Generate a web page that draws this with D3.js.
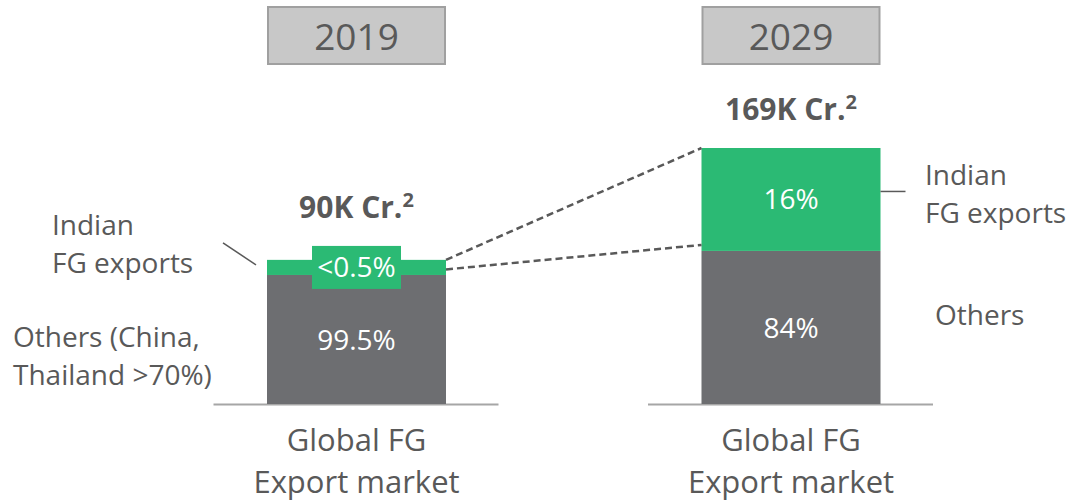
<!DOCTYPE html>
<html>
<head>
<meta charset="utf-8">
<script src="https://cdn.jsdelivr.net/npm/d3@7"></script>
<style>
  body { margin: 0; background: #fff; }
  text { font-family: "Open Sans", sans-serif; fill: #595959; }
</style>
</head>
<body>
<script>
// years and market sizes
let years = ['2019', '2029'];
let marketLabels = ['90K Cr.', '169K Cr.'];
let indianLabels = ['<0.5%', '16%'];
let othersLabels = ['99.5%', '84%'];
// segment heights as drawn on the slide (stylised, % of the tallest bar)
let othersDrawn = [50.4, 59.8];
let indianDrawn = [5.9, 40.2];

let w = 1066;
let h = 503;
let green = '#2bba74';
let grey = '#6d6e71';

let svg = d3.select('body').append('svg')
  .attr('width', w)
  .attr('height', h);

// scales
let x = d3.scalePoint()
  .domain(years)
  .range([356.5, 791]);
let y = d3.scaleLinear()
  .domain([0, 100])
  .range([404, 148]);
let barW = 179;

let data = years.map((yr, i) => ({
  yr,
  market: marketLabels[i],
  others: othersDrawn[i],
  indian: indianDrawn[i],
  othersLabel: othersLabels[i],
  indianLabel: indianLabels[i]
}));

// year boxes
let yearG = svg.selectAll('.year')
  .data(data)
  .enter()
    .append('g')
    .classed('year', true);
yearG.append('rect')
  .attr('x', d => x(d.yr) - 88.5)
  .attr('y', 7)
  .attr('width', 177)
  .attr('height', 57)
  .attr('fill', '#c8c8c8')
  .attr('stroke', '#a0a0a0')
  .attr('stroke-width', 2);
yearG.append('text')
  .attr('x', d => x(d.yr))
  .attr('y', 50)
  .attr('text-anchor', 'middle')
  .style('font-size', '37px')
  .text(d => d.yr);

// base lines
svg.selectAll('.base')
  .data(data)
  .enter()
    .append('line')
    .attr('x1', d => x(d.yr) - 143)
    .attr('x2', d => x(d.yr) + 142)
    .attr('y1', y(0) + 0.5)
    .attr('y2', y(0) + 0.5)
    .attr('stroke', '#a6a6a6')
    .attr('stroke-width', 2);

// others segment
svg.selectAll('.bar-others')
  .data(data)
  .enter()
    .append('rect')
    .attr('x', d => x(d.yr) - barW / 2)
    .attr('y', d => y(d.others))
    .attr('width', barW)
    .attr('height', d => y(0) - y(d.others))
    .attr('fill', grey);

// indian segment
svg.selectAll('.bar-indian')
  .data(data)
  .enter()
    .append('rect')
    .attr('x', d => x(d.yr) - barW / 2)
    .attr('y', d => y(d.others + d.indian))
    .attr('width', barW)
    .attr('height', d => y(d.others) - y(d.others + d.indian))
    .attr('fill', green);

// small segment gets a bigger label box
const isSmall = d => (y(d.others) - y(d.others + d.indian)) < 40;
const indianMid = d => (y(d.others) + y(d.others + d.indian)) / 2;

svg.selectAll('.lbl-box')
  .data(data.filter(isSmall))
  .enter()
    .append('rect')
    .attr('x', d => x(d.yr) - 44.5)
    .attr('y', d => indianMid(d) - 21.5)
    .attr('width', 89)
    .attr('height', 43)
    .attr('fill', green);

svg.selectAll('.lbl-indian')
  .data(data)
  .enter()
    .append('text')
    .attr('x', d => x(d.yr))
    .attr('y', d => indianMid(d) + 10)
    .attr('text-anchor', 'middle')
    .style('font-size', '28px')
    .style('fill', '#fff')
    .text(d => d.indianLabel);

svg.selectAll('.lbl-others')
  .data(data)
  .enter()
    .append('text')
    .attr('x', d => x(d.yr))
    .attr('y', d => (y(0) + y(d.others)) / 2 + 10.5)
    .attr('text-anchor', 'middle')
    .style('font-size', '28px')
    .style('fill', '#fff')
    .text(d => d.othersLabel);

// market size labels above the bars
let mk = svg.selectAll('.market')
  .data(data)
  .enter()
    .append('text')
    .attr('x', d => x(d.yr))
    .attr('y', d => {
      let top = y(d.others + d.indian);
      if (isSmall(d)) top = Math.min(top, indianMid(d) - 21.5);
      return top - 28;
    })
    .attr('text-anchor', 'middle')
    .style('font-size', '30px')
    .style('font-weight', 'bold');
mk.append('tspan').text(d => d.market);
mk.append('tspan')
  .attr('dy', -11)
  .style('font-size', '20px')
  .text('2');

// dashed connectors between the green segments
let a = data[0], b = data[1];
let lx1 = x(a.yr) + barW / 2, lx2 = x(b.yr) - barW / 2;
svg.append('line')
  .attr('x1', lx1).attr('y1', y(a.others + a.indian))
  .attr('x2', lx2).attr('y2', y(b.others + b.indian))
  .attr('stroke', '#595959').attr('stroke-width', 2.5)
  .attr('stroke-dasharray', '7 4');
svg.append('line')
  .attr('x1', lx1).attr('y1', indianMid(a) + 2)
  .attr('x2', lx2).attr('y2', y(b.others) - 6)
  .attr('stroke', '#595959').attr('stroke-width', 2.5)
  .attr('stroke-dasharray', '7 4');

// side labels
const addLines = (lines, xx, yy, anchor) => {
  lines.forEach((t, i) => {
    svg.append('text')
      .attr('x', xx)
      .attr('y', yy + i * 38)
      .attr('text-anchor', anchor || 'start')
      .style('font-size', '28px')
      .text(t);
  });
};
addLines(['Indian', 'FG exports'], 52, 235);
addLines(['Others (China,', 'Thailand >70%)'], 13, 347);
addLines(['Indian', 'FG exports'], 925, 185);
addLines(['Others'], 935, 325);

// leader lines
svg.append('line')
  .attr('x1', x(a.yr) - barW / 2 - 44).attr('y1', y(a.others + a.indian) - 17)
  .attr('x2', x(a.yr) - barW / 2 - 11).attr('y2', y(a.others + a.indian) + 5)
  .attr('stroke', '#595959').attr('stroke-width', 1.5);
svg.append('line')
  .attr('x1', x(b.yr) + barW / 2).attr('y1', indianMid(b) - 8)
  .attr('x2', x(b.yr) + barW / 2 + 25).attr('y2', indianMid(b) - 8)
  .attr('stroke', '#595959').attr('stroke-width', 1.5);

// category labels under the bars
data.forEach(d => {
  ['Global FG', 'Export market'].forEach((t, i) => {
    svg.append('text')
      .attr('x', x(d.yr))
      .attr('y', 451 + i * 42)
      .attr('text-anchor', 'middle')
      .style('font-size', '31px')
      .text(t);
  });
});
</script>
</body>
</html>
